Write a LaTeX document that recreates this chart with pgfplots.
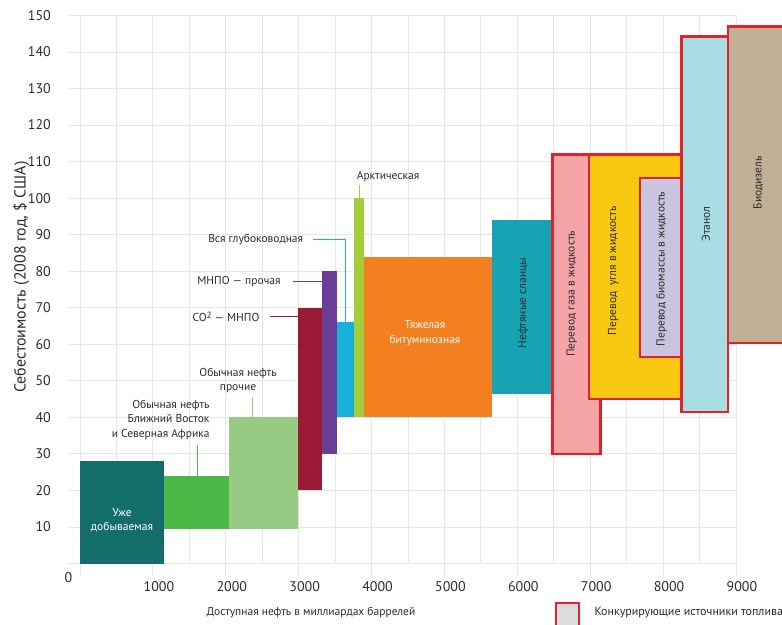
\documentclass[border=0pt]{standalone}
\usepackage{pgfplots}
\pgfplotsset{compat=1.18}
\usepackage{fontspec}
\setmainfont{PT Sans}

\definecolor{gridc}{HTML}{E6E6E6}
\definecolor{txt}{HTML}{2B2B2B}
\definecolor{cTeal}{HTML}{136E6B}
\definecolor{cGreen}{HTML}{4CB848}
\definecolor{cLightGreen}{HTML}{97CB83}
\definecolor{cDarkRed}{HTML}{9A1A33}
\definecolor{cPurple}{HTML}{6A3E97}
\definecolor{cCyan}{HTML}{19B0DA}
\definecolor{cLime}{HTML}{A4CD39}
\definecolor{cOrange}{HTML}{F28021}
\definecolor{cShale}{HTML}{16A3B4}
\definecolor{cPink}{HTML}{F5A5A7}
\definecolor{cRed}{HTML}{E4202B}
\definecolor{cYellow}{HTML}{F9C811}
\definecolor{cLavender}{HTML}{CAC4DF}
\definecolor{cLightBlue}{HTML}{A9DDE4}
\definecolor{cTan}{HTML}{C0B096}
\definecolor{cLegend}{HTML}{DCDCDC}

\newcommand{\annot}{\fontsize{11.5}{14.5}\selectfont}

\begin{document}
\begin{tikzpicture}
\begin{axis}[
  at={(0,0)}, anchor=south west,
  width=656pt, height=548pt, scale only axis,
  xmin=0, xmax=9000, ymin=0, ymax=150,
  clip=false,
  axis line style={draw=none},
  xtick={0,1000,...,9000},
  minor xtick={500,1500,...,8500},
  ytick={0,10,...,150},
  xticklabels={,1000,2000,3000,4000,5000,6000,7000,8000,9000},
  yticklabels={,10,20,30,40,50,60,70,80,90,100,110,120,130,140,150},
  grid=both,
  major grid style={gridc, line width=0.8pt},
  minor grid style={gridc, line width=0.8pt},
  tick align=outside,
  major tick length=12pt, minor tick length=0pt,
  tick style={gridc, line width=0.8pt},
  xtick pos=left, ytick pos=left,
  /pgf/number format/assume math mode=true,
  tick label style={font=\fontsize{14}{16}\selectfont, text=txt},
  yticklabel style={anchor=east, inner sep=0pt, xshift=-17pt},
  xticklabel style={anchor=north, inner sep=0pt, xshift=6pt, yshift=-6pt},
]

% conventional oil
\addplot[fill=cTeal, draw=none] coordinates {(0,0) (1150,0) (1150,28) (0,28)} --cycle;
\addplot[fill=cGreen, draw=none] coordinates {(1150,9.5) (2040,9.5) (2040,24) (1150,24)} --cycle;
\addplot[fill=cLightGreen, draw=none] coordinates {(2040,9.5) (2990,9.5) (2990,40) (2040,40)} --cycle;
% enhanced recovery, deep water, arctic
\addplot[fill=cDarkRed, draw=none] coordinates {(2990,20) (3320,20) (3320,70) (2990,70)} --cycle;
\addplot[fill=cPurple, draw=none] coordinates {(3320,30) (3530,30) (3530,80) (3320,80)} --cycle;
\addplot[fill=cCyan, draw=none] coordinates {(3530,40) (3760,40) (3760,66) (3530,66)} --cycle;
\addplot[fill=cLime, draw=none] coordinates {(3760,40) (3900,40) (3900,100) (3760,100)} --cycle;
% heavy oil and shale
\addplot[fill=cOrange, draw=none] coordinates {(3900,40) (5650,40) (5650,84) (3900,84)} --cycle;
\addplot[fill=cShale, draw=none] coordinates {(5650,46.3) (6480,46.3) (6480,94) (5650,94)} --cycle;
% competing fuels
\addplot[fill=cPink, draw=cRed, line width=2.5pt] coordinates {(6480,30) (7140,30) (7140,112) (6480,112)} --cycle;
\addplot[fill=cYellow, draw=cRed, line width=2.5pt] coordinates {(6980,45) (8250,45) (8250,112) (6980,112)} --cycle;
\addplot[fill=cLavender, draw=cRed, line width=2.5pt] coordinates {(7680,56.5) (8250,56.5) (8250,105.5) (7680,105.5)} --cycle;
\addplot[fill=cLightBlue, draw=cRed, line width=2.5pt] coordinates {(8250,41.5) (8890,41.5) (8890,144.2) (8250,144.2)} --cycle;
\addplot[fill=cTan, draw=cRed, line width=2.5pt] coordinates {(8890,60.3) (9750,60.3) (9750,147) (8890,147)} --cycle;

% labels inside the blocks
\node[text=white, align=center, font=\annot] at (axis cs:576,11.9) {Уже\\добываемая};
\node[text=white, align=center, font=\annot] at (axis cs:4733,63.1) {Тяжелая\\битуминозная};
\node[rotate=90, text=txt, font=\annot] at (axis cs:6082,71.3) {Нефтяные сланцы};
\node[rotate=90, text=txt, font=\annot] at (axis cs:6746,73.8) {Перевод газа в жидкость};
\node[rotate=90, text=txt, font=\annot] at (axis cs:7317,80.1) {Перевод\ \ угля в жидкость};
\node[rotate=90, text=txt, font=\annot] at (axis cs:7981,80.6) {Перевод биомассы в жидкость};
\node[rotate=90, text=txt, font=\annot] at (axis cs:8588,92.9) {Этанол};
\node[rotate=90, text=txt, font=\annot] at (axis cs:9306,104.2) {Биодизель};

% callouts with leader lines
\node[anchor=east, align=right, text=txt, font=\annot] at (axis cs:1825,39.3) {Обычная нефть\\Ближний Восток\\и Северная Африка};
\draw[cGreen, line width=0.9pt] (axis cs:1615,32.4) -- (axis cs:1615,24);
\node[align=center, text=txt, font=\annot] at (axis cs:2168,50.1) {Обычная нефть\\прочие};
\draw[cLightGreen, line width=0.9pt] (axis cs:2369,45.7) -- (axis cs:2369,40);
\node[anchor=east, text=txt, font=\annot] at (axis cs:2510,67.6) {CO\raisebox{0.5ex}{\fontsize{9}{10}\selectfont 2} — МНПО};
\draw[cDarkRed, line width=0.9pt] (axis cs:2607,67.6) -- (axis cs:2990,67.6);
\node[anchor=east, text=txt, font=\annot] at (axis cs:2800,77.1) {МНПО — прочая};
\draw[cPurple, line width=0.9pt] (axis cs:2922,77.1) -- (axis cs:3320,77.1);
\node[anchor=east, text=txt, font=\annot] at (axis cs:3110,88.6) {Вся глубоководная};
\draw[cCyan, line width=0.9pt] (axis cs:3200,88.6) -- (axis cs:3645,88.6) -- (axis cs:3645,66);
\node[text=txt, font=\annot] at (axis cs:4226,105.9) {Арктическая};
\draw[cLime, line width=0.9pt] (axis cs:3830,103.6) -- (axis cs:3830,100);

% axis titles, corner zero and legend
\node[rotate=90, text=txt, font=\fontsize{16}{18}\selectfont] at (axis cs:-809,78.4) {Себестоимость (2008 год, \$ США)};
\node[text=txt, font=\fontsize{14}{16}\selectfont] at (axis cs:-158,-3.8) {0};
\node[text=txt, font=\annot] at (axis cs:3169,-13.4) {Доступная нефть в миллиардах баррелей};
\draw[fill=cLegend, draw=cRed, line width=2.5pt] (axis cs:6530,-10.8) rectangle (axis cs:6845,-17.5);
\node[anchor=west, text=txt, font=\fontsize{12}{14}\selectfont] at (axis cs:7011,-13.3) {Конкурирующие источники топлива};
\end{axis}
\pgfresetboundingbox
\useasboundingbox (-80pt,-60.5pt) rectangle (702pt,563.5pt);
\end{tikzpicture}
\end{document}
